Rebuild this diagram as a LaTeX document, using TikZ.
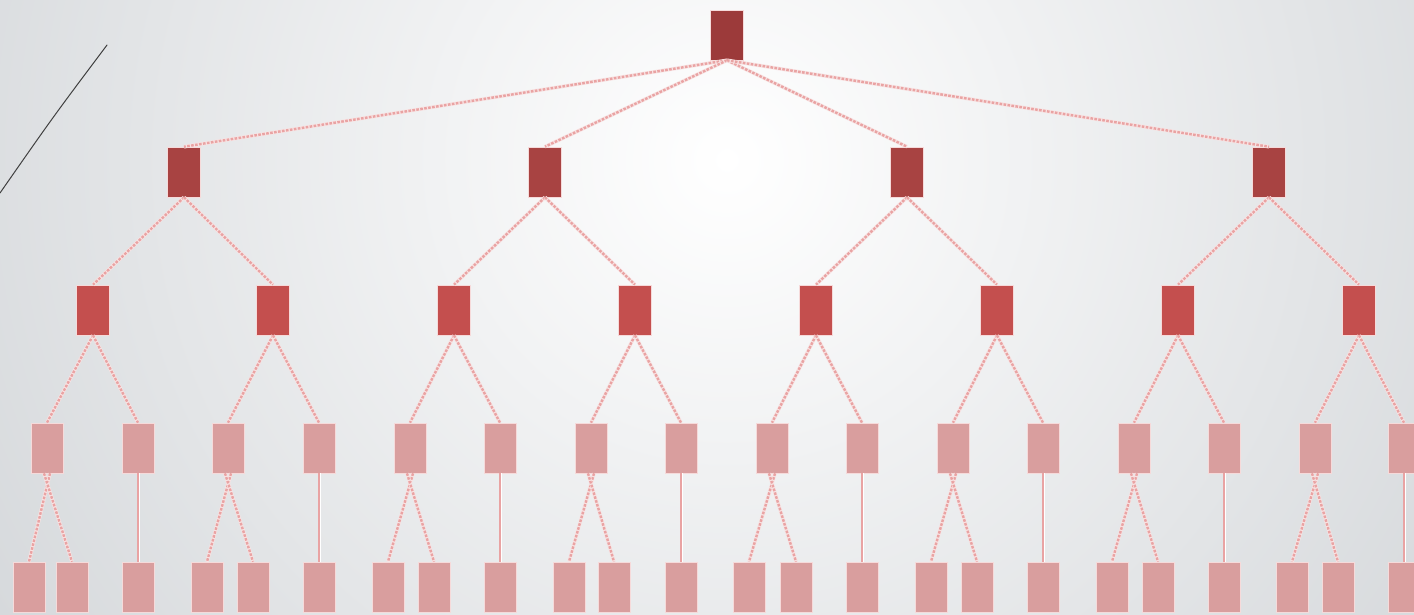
\documentclass[tikz,border=0pt]{standalone}
\usepackage{xcolor}
\usepackage{tikz}
\usetikzlibrary{calc}
\usetikzlibrary{arrows.meta}
\usetikzlibrary{shapes}
\usetikzlibrary{positioning}
\definecolor{rootred}{HTML}{9C3A3A}
\definecolor{midred}{HTML}{A84342}
\definecolor{lowred}{HTML}{C44F4E}
\definecolor{leafpink}{HTML}{D99E9E}
\definecolor{linkpink}{HTML}{E9A3A3}
\definecolor{bggray}{HTML}{D5D8DB}
\tikzstyle{box} = [rectangle, minimum width=33pt, minimum height=50pt, inner sep=0pt, draw=white!60!linkpink, line width=0.6pt]
\tikzstyle{rootbox} = [box, fill=rootred]
\tikzstyle{midbox} = [box, fill=midred]
\tikzstyle{lowbox} = [box, fill=lowred]
\tikzstyle{leafbox} = [box, minimum width=32pt, fill=leafpink]
\tikzstyle{link} = [-, draw=linkpink, line width=2.4pt, dash pattern=on 2.6pt off 1.4pt, preaction={draw=white!70!linkpink, line width=3.6pt, solid}]
\tikzstyle{stem} = [-, draw=linkpink, line width=1.8pt, preaction={draw=white, line width=3pt}]

\begin{document}
\begin{tikzpicture}[x=1pt, y=-1pt]
\useasboundingbox (0, 0) rectangle (1414, 614);
\begin{scope}
\clip (0, 0) rectangle (1414, 614);
\fill [bggray] (0, 0) rectangle (1414, 614);
\shade [inner color=white, outer color=bggray] (727, 160) circle (880);
\end{scope}
\draw [draw=black!75, line width=1pt, line cap=round] (107, 45) .. controls (53, 117) .. (0, 193);

% root and first level
\node [rootbox] (R) at (727, 35) {};
\node [midbox] (A1) at (184, 172) {};
\node [midbox] (A2) at (545, 172) {};
\node [midbox] (A3) at (907, 172) {};
\node [midbox] (A4) at (1269, 172) {};

% second level
\node [lowbox] (B1) at (93, 310) {};
\node [lowbox] (B2) at (273, 310) {};
\node [lowbox] (B3) at (454, 310) {};
\node [lowbox] (B4) at (635, 310) {};
\node [lowbox] (B5) at (816, 310) {};
\node [lowbox] (B6) at (997, 310) {};
\node [lowbox] (B7) at (1178, 310) {};
\node [lowbox] (B8) at (1359, 310) {};

% third level
\node [leafbox] (C1) at (47, 448) {};
\node [leafbox] (C2) at (138, 448) {};
\node [leafbox] (C3) at (228, 448) {};
\node [leafbox] (C4) at (319, 448) {};
\node [leafbox] (C5) at (410, 448) {};
\node [leafbox] (C6) at (500, 448) {};
\node [leafbox] (C7) at (591, 448) {};
\node [leafbox] (C8) at (681, 448) {};
\node [leafbox] (C9) at (772, 448) {};
\node [leafbox] (C10) at (862, 448) {};
\node [leafbox] (C11) at (953, 448) {};
\node [leafbox] (C12) at (1043, 448) {};
\node [leafbox] (C13) at (1134, 448) {};
\node [leafbox] (C14) at (1224, 448) {};
\node [leafbox] (C15) at (1315, 448) {};
\node [leafbox] (C16) at (1404, 448) {};

% leaves
\node [leafbox] (D1) at (29, 587) {};
\node [leafbox] (D2) at (72, 587) {};
\node [leafbox] (D3) at (138, 587) {};
\node [leafbox] (D4) at (207, 587) {};
\node [leafbox] (D5) at (253, 587) {};
\node [leafbox] (D6) at (319, 587) {};
\node [leafbox] (D7) at (388, 587) {};
\node [leafbox] (D8) at (434, 587) {};
\node [leafbox] (D9) at (500, 587) {};
\node [leafbox] (D10) at (569, 587) {};
\node [leafbox] (D11) at (614, 587) {};
\node [leafbox] (D12) at (681, 587) {};
\node [leafbox] (D13) at (749, 587) {};
\node [leafbox] (D14) at (796, 587) {};
\node [leafbox] (D15) at (862, 587) {};
\node [leafbox] (D16) at (931, 587) {};
\node [leafbox] (D17) at (977, 587) {};
\node [leafbox] (D18) at (1043, 587) {};
\node [leafbox] (D19) at (1112, 587) {};
\node [leafbox] (D20) at (1158, 587) {};
\node [leafbox] (D21) at (1224, 587) {};
\node [leafbox] (D22) at (1292, 587) {};
\node [leafbox] (D23) at (1338, 587) {};
\node [leafbox] (D24) at (1404, 587) {};

% links
\draw [link] (R.south) to (A1.north);
\draw [link] (R.south) to (A2.north);
\draw [link] (R.south) to (A3.north);
\draw [link] (R.south) to (A4.north);

\draw [link] (A1.south) to (B1.north);
\draw [link] (A1.south) to (B2.north);
\draw [link] (A2.south) to (B3.north);
\draw [link] (A2.south) to (B4.north);
\draw [link] (A3.south) to (B5.north);
\draw [link] (A3.south) to (B6.north);
\draw [link] (A4.south) to (B7.north);
\draw [link] (A4.south) to (B8.north);

\draw [link] (B1.south) to (C1.north);
\draw [link] (B1.south) to (C2.north);
\draw [link] (B2.south) to (C3.north);
\draw [link] (B2.south) to (C4.north);
\draw [link] (B3.south) to (C5.north);
\draw [link] (B3.south) to (C6.north);
\draw [link] (B4.south) to (C7.north);
\draw [link] (B4.south) to (C8.north);
\draw [link] (B5.south) to (C9.north);
\draw [link] (B5.south) to (C10.north);
\draw [link] (B6.south) to (C11.north);
\draw [link] (B6.south) to (C12.north);
\draw [link] (B7.south) to (C13.north);
\draw [link] (B7.south) to (C14.north);
\draw [link] (B8.south) to (C15.north);
\draw [link] (B8.south) to (C16.north);

% crossed pairs and single stems
\draw [link] ($(C1.south)+(3, 0)$) to (D1.north);
\draw [link] ($(C1.south)-(3, 0)$) to (D2.north);
\draw [stem] (C2.south) to (D3.north);
\draw [link] ($(C3.south)+(3, 0)$) to (D4.north);
\draw [link] ($(C3.south)-(3, 0)$) to (D5.north);
\draw [stem] (C4.south) to (D6.north);
\draw [link] ($(C5.south)+(3, 0)$) to (D7.north);
\draw [link] ($(C5.south)-(3, 0)$) to (D8.north);
\draw [stem] (C6.south) to (D9.north);
\draw [link] ($(C7.south)+(3, 0)$) to (D10.north);
\draw [link] ($(C7.south)-(3, 0)$) to (D11.north);
\draw [stem] (C8.south) to (D12.north);
\draw [link] ($(C9.south)+(3, 0)$) to (D13.north);
\draw [link] ($(C9.south)-(3, 0)$) to (D14.north);
\draw [stem] (C10.south) to (D15.north);
\draw [link] ($(C11.south)+(3, 0)$) to (D16.north);
\draw [link] ($(C11.south)-(3, 0)$) to (D17.north);
\draw [stem] (C12.south) to (D18.north);
\draw [link] ($(C13.south)+(3, 0)$) to (D19.north);
\draw [link] ($(C13.south)-(3, 0)$) to (D20.north);
\draw [stem] (C14.south) to (D21.north);
\draw [link] ($(C15.south)+(3, 0)$) to (D22.north);
\draw [link] ($(C15.south)-(3, 0)$) to (D23.north);
\draw [stem] (C16.south) to (D24.north);
\end{tikzpicture}
\end{document}
